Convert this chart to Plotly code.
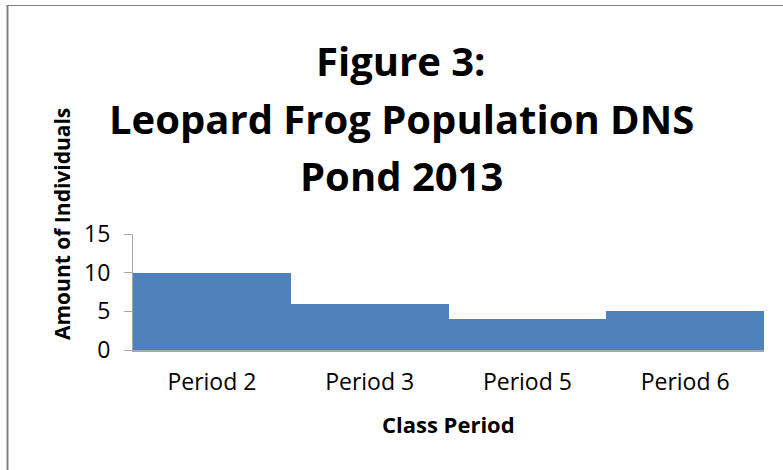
import plotly.graph_objects as go

# Leopard frog counts per class period
periods = ["Period 2", "Period 3", "Period 5", "Period 6"]
counts = [10, 6, 4, 5]
y_ticks = [0, 5, 10, 15]
title_lines = ["Figure 3:", "Leopard Frog Population DNS", "Pond 2013"]

W, H = 783, 470
L, R, T, B = 133, 19, 234, 120
plot_h = H - T - B
plot_w = W - L - R


def py(px):
    """Convert a pixel row to paper y."""
    return (H - B - px) / plot_h


def px_x(px):
    """Convert a pixel column to paper x."""
    return (px - L) / plot_w


FONT = "Open Sans"

fig = go.Figure(
    go.Bar(
        x=periods,
        y=counts,
        marker=dict(color="#4F81BD", line=dict(width=0)),
        hoverinfo="x+y",
    )
)

annotations = []
for text, yc in zip(title_lines, [60, 118, 175]):
    annotations.append(dict(
        text=f"<b>{text}</b>", x=px_x(401), y=py(yc), xref="paper", yref="paper",
        xanchor="center", yanchor="middle", showarrow=False,
        font=dict(family=FONT, size=40, color="black"),
    ))
annotations.append(dict(
    text="<b>Amount of Individuals</b>", x=px_x(62), y=py(224), xref="paper", yref="paper",
    xanchor="center", yanchor="middle", showarrow=False, textangle=-90,
    font=dict(family=FONT, size=21, color="black"),
))
annotations.append(dict(
    text="<b>Class Period</b>", x=0.5, y=py(424), xref="paper", yref="paper",
    xanchor="center", yanchor="middle", showarrow=False,
    font=dict(family=FONT, size=22, color="black"),
))

fig.update_layout(
    width=W, height=H,
    margin=dict(l=L, r=R, t=T, b=B, autoexpand=False),
    paper_bgcolor="white", plot_bgcolor="white",
    bargap=0,
    showlegend=False,
    font=dict(family=FONT, size=22, color="black"),
    annotations=annotations,
    shapes=[
        # chart frame (left and top edges)
        dict(type="line", xref="paper", yref="paper",
             x0=px_x(7.5), x1=px_x(7.5), y0=py(5), y1=py(H + 5),
             line=dict(color="#808080", width=2)),
        dict(type="line", xref="paper", yref="paper",
             x0=px_x(6.5), x1=px_x(W + 5), y0=py(5.5), y1=py(5.5),
             line=dict(color="#808080", width=1)),
    ],
)

fig.update_xaxes(
    showline=True, linecolor="#A6A6A6", linewidth=1.5,
    ticks="", showgrid=False, ticklabelstandoff=11,
    tickfont=dict(family=FONT, size=23, color="black"),
)
fig.update_yaxes(
    range=[0, 15], tickvals=y_ticks, showgrid=False, zeroline=False,
    showline=True, linecolor="#A6A6A6", linewidth=1,
    ticks="outside", ticklen=8, tickcolor="#A6A6A6", tickwidth=1,
    ticklabelstandoff=9,
    tickfont=dict(family=FONT, size=23, color="black"),
)

fig.write_html("out.html")
